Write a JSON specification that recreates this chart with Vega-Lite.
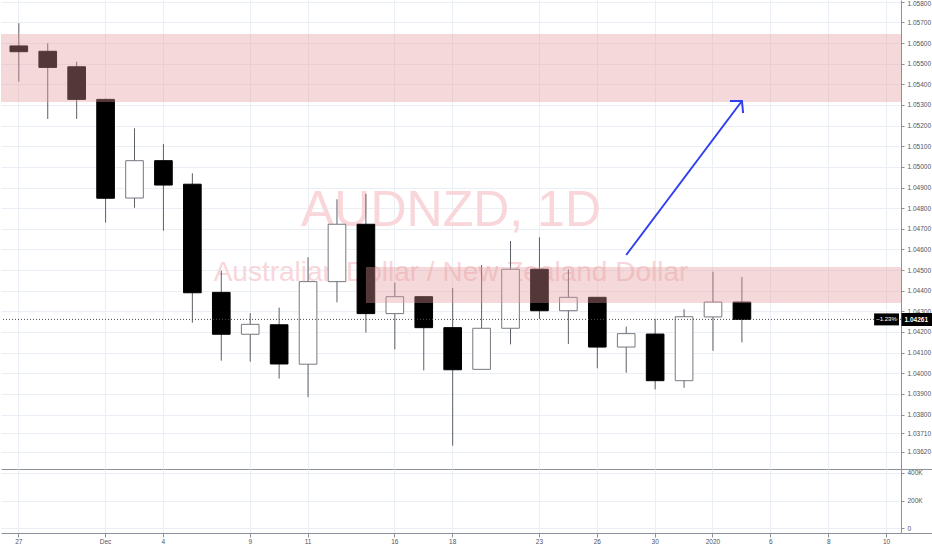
{
  "$schema": "https://vega.github.io/schema/vega-lite/v6.json",
  "padding": 0,
  "background": "#ffffff",
  "spacing": 0,
  "bounds": "flush",
  "config": {
    "view": {"stroke": null},
    "font": "Liberation Sans",
    "axis": {"labelFont": "Liberation Sans", "labelFontSize": 6.5, "labelColor": "#50535e", "gridColor": "#e9eff4", "domainColor": "#8d9099", "tickColor": "#8d9099", "title": null, "labelOverlap": false}
  },
  "datasets": {
    "candles": [
      {"date": "2019-11-27", "open": 1.05586, "high": 1.05696, "low": 1.05413, "close": 1.05558},
      {"date": "2019-11-28", "open": 1.05560, "high": 1.05599, "low": 1.05232, "close": 1.05482},
      {"date": "2019-11-29", "open": 1.05485, "high": 1.05510, "low": 1.05232, "close": 1.05327},
      {"date": "2019-12-02", "open": 1.05327, "high": 1.05330, "low": 1.04730, "close": 1.04848},
      {"date": "2019-12-03", "open": 1.04849, "high": 1.05187, "low": 1.04802, "close": 1.05030},
      {"date": "2019-12-04", "open": 1.05030, "high": 1.05111, "low": 1.04691, "close": 1.04912},
      {"date": "2019-12-05", "open": 1.04916, "high": 1.04969, "low": 1.04245, "close": 1.04390},
      {"date": "2019-12-06", "open": 1.04392, "high": 1.04497, "low": 1.04061, "close": 1.04189},
      {"date": "2019-12-09", "open": 1.04189, "high": 1.04291, "low": 1.04056, "close": 1.04237},
      {"date": "2019-12-10", "open": 1.04235, "high": 1.04318, "low": 1.03974, "close": 1.04045},
      {"date": "2019-12-11", "open": 1.04044, "high": 1.04562, "low": 1.03884, "close": 1.04444},
      {"date": "2019-12-12", "open": 1.04444, "high": 1.04843, "low": 1.04344, "close": 1.04722},
      {"date": "2019-12-13", "open": 1.04722, "high": 1.04869, "low": 1.04197, "close": 1.04289},
      {"date": "2019-12-16", "open": 1.04289, "high": 1.04439, "low": 1.04116, "close": 1.04371},
      {"date": "2019-12-17", "open": 1.04371, "high": 1.04373, "low": 1.04014, "close": 1.04221},
      {"date": "2019-12-18", "open": 1.04221, "high": 1.04413, "low": 1.03649, "close": 1.04017},
      {"date": "2019-12-19", "open": 1.04019, "high": 1.04525, "low": 1.04019, "close": 1.04218},
      {"date": "2019-12-20", "open": 1.04218, "high": 1.04641, "low": 1.04140, "close": 1.04504},
      {"date": "2019-12-23", "open": 1.04504, "high": 1.04659, "low": 1.04263, "close": 1.04303},
      {"date": "2019-12-24", "open": 1.04303, "high": 1.04504, "low": 1.04142, "close": 1.04368},
      {"date": "2019-12-26", "open": 1.04368, "high": 1.04370, "low": 1.04024, "close": 1.04127},
      {"date": "2019-12-27", "open": 1.04127, "high": 1.04226, "low": 1.04003, "close": 1.04192},
      {"date": "2019-12-30", "open": 1.04190, "high": 1.04263, "low": 1.03922, "close": 1.03964},
      {"date": "2019-12-31", "open": 1.03964, "high": 1.04310, "low": 1.03930, "close": 1.04274},
      {"date": "2020-01-02", "open": 1.04273, "high": 1.04492, "low": 1.04109, "close": 1.04345},
      {"date": "2020-01-03", "open": 1.04345, "high": 1.04466, "low": 1.04150, "close": 1.04261}
    ]
  },
  "vconcat": [
    {
      "width": 900,
      "height": 469,
      "resolve": {"scale": {"y": "independent"}, "axis": {"y": "independent"}},
      "layer": [
        {
          "layer": [
            {
              "data": {"values": [{"label": "AUDNZD, 1D", "price": 1.04714}]},
              "mark": {"type": "text", "font": "Liberation Sans", "fontSize": 50, "fill": "#f8d6d9", "baseline": "alphabetic", "align": "center"},
              "encoding": {
                "text": {"field": "label"},
                "y": {
                  "field": "price", "type": "quantitative",
                  "scale": {"domain": [1.035362, 1.058085], "nice": false, "zero": false},
                  "axis": {
                    "orient": "right",
                    "values": [1.035362, 1.0362, 1.0371, 1.038, 1.039, 1.04, 1.041, 1.042, 1.043, 1.044, 1.045, 1.046, 1.047, 1.048, 1.049, 1.05, 1.051, 1.052, 1.053, 1.054, 1.055, 1.056, 1.057, 1.058],
                    "tickCount": 200,
                    "labelExpr": "datum.value < 1.0355 ? '' : format(datum.value, '.5f')",
                    "labelOverlap": false,
                    "labelBound": false,
                    "grid": true,
                    "domain": true,
                    "domainColor": "#8d9099",
                    "tickSize": {"condition": {"test": "datum.value < 1.0355", "value": 33}, "value": 3},
                    "gridOpacity": {"condition": {"test": "datum.value < 1.0355", "value": 0}, "value": 1},
                    "labelOffset": {"condition": {"test": "datum.value > 1.0575", "value": 2}, "value": 0},
                    "labelPadding": 3
                  }
                }
              }
            },
            {
              "data": {"values": [{"label": "Australian Dollar / New Zealand Dollar", "price": 1.04447}]},
              "mark": {"type": "text", "font": "Liberation Sans", "fontSize": 28, "fill": "#f8d6d9", "baseline": "alphabetic", "align": "center"},
              "encoding": {
                "text": {"field": "label"},
                "y": {"field": "price", "type": "quantitative"}
              }
            },
            {
              "data": {"name": "candles"},
              "mark": {"type": "rule", "color": "#5d5f66", "strokeWidth": 1},
              "encoding": {
                "x": {
                  "field": "date", "type": "ordinal",
                  "scale": {"type": "band", "domain": ["2019-11-27","2019-11-28","2019-11-29","2019-12-02","2019-12-03","2019-12-04","2019-12-05","2019-12-06","2019-12-09","2019-12-10","2019-12-11","2019-12-12","2019-12-13","2019-12-16","2019-12-17","2019-12-18","2019-12-19","2019-12-20","2019-12-23","2019-12-24","2019-12-26","2019-12-27","2019-12-30","2019-12-31","2020-01-02","2020-01-03","2020-01-06","2020-01-07","2020-01-08","2020-01-09","2020-01-10"], "paddingInner": 0, "paddingOuter": 0.058, "align": 1},
                  "axis": {"orient": "bottom", "values": ["2019-11-27","2019-12-02","2019-12-04","2019-12-09","2019-12-11","2019-12-16","2019-12-18","2019-12-23","2019-12-26","2019-12-30","2020-01-02","2020-01-06","2020-01-08","2020-01-10"], "labels": false, "ticks": false, "domain": true, "domainColor": "#8d9099", "grid": true, "bandPosition": 0.5}
                },
                "y": {"field": "low", "type": "quantitative"},
                "y2": {"field": "high"}
              }
            },
            {
              "data": {"name": "candles"},
              "mark": {"type": "bar", "width": {"band": 0.61}, "strokeWidth": 1},
              "encoding": {
                "x": {"field": "date", "type": "ordinal"},
                "y": {"field": "open", "type": "quantitative"},
                "y2": {"field": "close"},
                "fill": {"condition": {"test": "datum.close >= datum.open", "value": "#ffffff"}, "value": "#000000"},
                "stroke": {"condition": {"test": "datum.close >= datum.open", "value": "#77797f"}, "value": "#000000"}
              }
            },
            {
              "data": {"values": [{"top": 1.056438, "bottom": 1.053143}]},
              "mark": {"type": "rect", "fill": "#e5989b", "opacity": 0.37},
              "encoding": {
                "y": {"field": "top", "type": "quantitative"},
                "y2": {"field": "bottom"}
              }
            },
            {
              "data": {"values": [{"from": "2019-12-13", "to": "2020-01-10", "top": 1.045149, "bottom": 1.043405}]},
              "mark": {"type": "rect", "fill": "#e5989b", "opacity": 0.37},
              "encoding": {
                "x": {"field": "from", "type": "ordinal", "bandPosition": 0.5},
                "x2": {"field": "to", "bandPosition": 1},
                "y": {"field": "top", "type": "quantitative"},
                "y2": {"field": "bottom"}
              }
            },
            {
              "data": {"values": [{"date": "2020-01-10", "top": 1.0429, "bottom": 1.04232}]},
              "mark": {"type": "bar", "width": {"band": 0.86}, "fill": "#000000"},
              "encoding": {
                "x": {"field": "date", "type": "ordinal"},
                "y": {"field": "top", "type": "quantitative"},
                "y2": {"field": "bottom"}
              }
            },
            {
              "data": {"values": [{"date": "2020-01-10", "price": 1.04261, "label": "−1.23%"}]},
              "mark": {"type": "text", "fill": "#ffffff", "fontSize": 6, "baseline": "middle", "align": "center"},
              "encoding": {
                "x": {"field": "date", "type": "ordinal"},
                "y": {"field": "price", "type": "quantitative"},
                "text": {"field": "label"}
              }
            },
            {
              "data": {"values": [{"date": "2019-12-27", "price": 1.04573}, {"date": "2020-01-03", "price": 1.053192}]},
              "mark": {"type": "line", "stroke": "#2f3ff0", "strokeWidth": 2},
              "encoding": {
                "x": {"field": "date", "type": "ordinal"},
                "y": {"field": "price", "type": "quantitative"}
              }
            },
            {
              "data": {"values": [{"date": "2020-01-03", "price": 1.053192}]},
              "mark": {"type": "point", "shape": "M -1 0 L 0 0 L 0.1 1", "size": 576, "filled": false, "stroke": "#2f3ff0", "strokeWidth": 2, "opacity": 1},
              "encoding": {
                "x": {"field": "date", "type": "ordinal"},
                "y": {"field": "price", "type": "quantitative"}
              }
            }
          ]
        },
        {
          "data": {"values": [{"price": 1.04261}]},
          "mark": {"type": "rule", "color": "#4a4c52", "strokeDash": [1, 2], "strokeWidth": 1},
          "encoding": {
            "y": {
              "field": "price", "type": "quantitative",
              "scale": {"domain": [1.035362, 1.058085], "nice": false, "zero": false},
              "axis": {
                "orient": "right",
                "values": [1.04261],
                "format": ".5f",
                "domain": false,
                "grid": false,
                "tickSize": 33,
                "tickWidth": 13,
                "tickColor": "#000000",
                "labelPadding": -30,
                "labelAlign": "left",
                "labelColor": "#ffffff",
                "labelFontWeight": "bold",
                "labelFontSize": 6.5,
                "labelOverlap": false
              }
            }
          }
        }
      ]
    },
    {
      "width": 900,
      "height": 64,
      "data": {"name": "candles"},
      "mark": {"type": "tick", "opacity": 0},
      "encoding": {
        "x": {
          "field": "date", "type": "ordinal",
          "scale": {"type": "band", "domain": ["2019-11-27","2019-11-28","2019-11-29","2019-12-02","2019-12-03","2019-12-04","2019-12-05","2019-12-06","2019-12-09","2019-12-10","2019-12-11","2019-12-12","2019-12-13","2019-12-16","2019-12-17","2019-12-18","2019-12-19","2019-12-20","2019-12-23","2019-12-24","2019-12-26","2019-12-27","2019-12-30","2019-12-31","2020-01-02","2020-01-03","2020-01-06","2020-01-07","2020-01-08","2020-01-09","2020-01-10"], "paddingInner": 0, "paddingOuter": 0.058, "align": 1},
          "axis": {"orient": "bottom", "values": ["2019-11-27","2019-12-02","2019-12-04","2019-12-09","2019-12-11","2019-12-16","2019-12-18","2019-12-23","2019-12-26","2019-12-30","2020-01-02","2020-01-06","2020-01-08","2020-01-10"], "labelExpr": "datum.value == '2019-12-02' ? 'Dec' : datum.value == '2020-01-02' ? '2020' : '' + toNumber(slice(datum.value, 8))", "labelAngle": 0, "labelAlign": "center", "labelOverlap": false, "tickSize": 4, "labelPadding": 1, "grid": true, "bandPosition": 0.5, "domainColor": "#8d9099"}
        },
        "y": {
          "datum": 0, "type": "quantitative",
          "scale": {"domain": [-36000, 429000], "nice": false, "zero": false},
          "axis": {
            "orient": "right",
            "values": [-36000, 0, 200000, 400000],
            "tickCount": 20,
            "labelExpr": "datum.value < -1000 ? '' : datum.value == 0 ? '0' : (datum.value / 1000) + 'K'",
            "labelOverlap": false,
            "grid": true,
            "tickSize": {"condition": {"test": "datum.value < -1000", "value": 33}, "value": 3},
            "gridOpacity": {"condition": {"test": "datum.value < -1000", "value": 0}, "value": 1},
            "labelPadding": 3
          }
        }
      }
    }
  ]
}
